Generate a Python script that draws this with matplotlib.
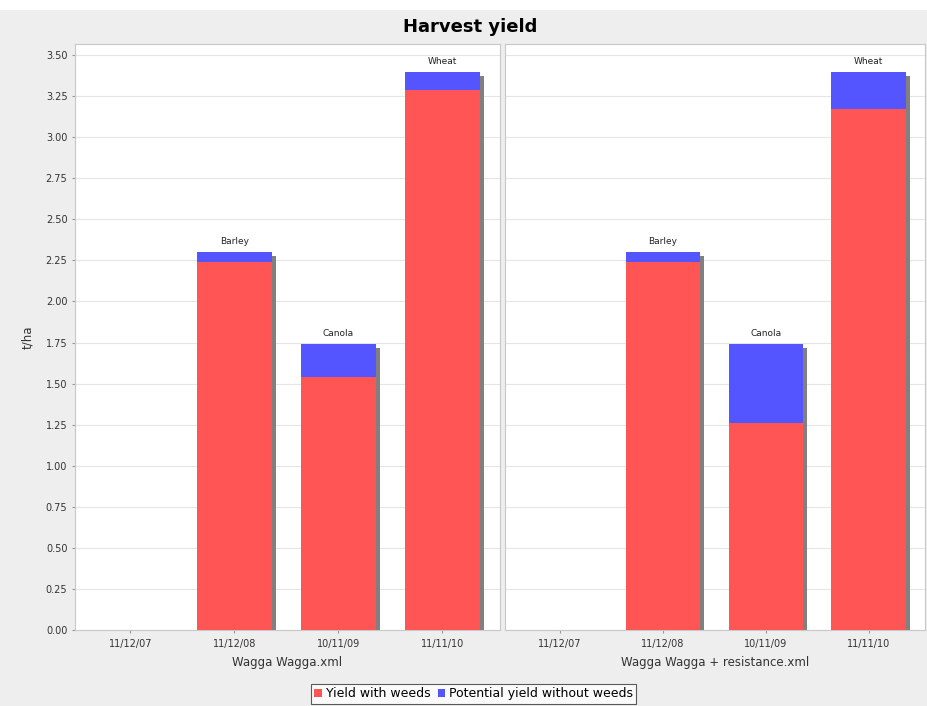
import matplotlib
matplotlib.use('Agg')
import matplotlib.pyplot as plt
import matplotlib.transforms as mtransforms
from matplotlib.patches import Rectangle
import numpy as np

dates = ['11/12/07', '11/12/08', '10/11/09', '11/11/10']
crops = ['', 'Barley', 'Canola', 'Wheat']
panels = ['Wagga Wagga.xml', 'Wagga Wagga + resistance.xml']

# yield with weeds (t/ha) per panel
with_weeds = [
    [0.0, 2.24, 1.54, 3.29],
    [0.0, 2.24, 1.26, 3.17],
]
# potential yield without weeds (stack top)
potential = [
    [0.0, 2.30, 1.74, 3.40],
    [0.0, 2.30, 1.74, 3.40],
]

RED = '#ff5555'
BLUE = '#5555ff'
SHADOW = '#808080'
BG = '#eeeeee'

fig = plt.figure(figsize=(9.27, 7.06), dpi=100, facecolor=BG)
fig.patches.append(Rectangle((0, 0.986), 1, 0.014, transform=fig.transFigure,
                             facecolor='white', edgecolor='none', zorder=0))

ax1 = fig.add_axes([0.081, 0.108, 0.458, 0.830])
ax2 = fig.add_axes([0.545, 0.108, 0.453, 0.830], sharey=ax1)

x = np.arange(len(dates))
width = 0.72
# drop shadow: 4 px right, 4 px down
shadow_off = mtransforms.ScaledTranslation(4 / 100, -4 / 100, fig.dpi_scale_trans)

for i, ax in enumerate([ax1, ax2]):
    red = np.array(with_weeds[i])
    top = np.array(potential[i])
    ax.bar(x, top, width, color=SHADOW, transform=ax.transData + shadow_off,
           zorder=2, linewidth=0)
    ax.bar(x, red, width, color=RED, zorder=3, linewidth=0,
           label='Yield with weeds')
    ax.bar(x, top - red, width, bottom=red, color=BLUE, zorder=3, linewidth=0,
           label='Potential yield without weeds')
    for xi, t, name in zip(x, top, crops):
        if name:
            ax.text(xi, t + 0.035, name, ha='center', va='bottom', fontsize=6.5,
                    color='#222222')

    ax.set_xlim(-0.53, 3.55)
    ax.set_ylim(0, 3.57)
    ax.set_xticks(x)
    ax.set_xticklabels(dates)
    ax.set_yticks(np.arange(0, 3.51, 0.25))
    ax.grid(axis='y', color='#e6e6e6', linewidth=0.8, zorder=0)
    ax.set_axisbelow(True)
    ax.set_facecolor('white')
    for s in ax.spines.values():
        s.set_color('#c8c8c8')
    ax.tick_params(axis='both', colors='#999999', labelcolor='#333333',
                   length=2, labelsize=7)
    ax.tick_params(axis='x', pad=5)
    ax.set_xlabel(panels[i], fontsize=8.5, color='#333333', labelpad=5)

ax1.set_yticklabels(['%.2f' % v for v in np.arange(0, 3.51, 0.25)])
ax1.set_ylabel('t/ha', fontsize=8.5, color='#333333', labelpad=8)
ax2.tick_params(axis='y', labelleft=False, length=0)

fig.text(0.507, 0.962, 'Harvest yield', ha='center', va='center',
         fontsize=13, fontweight='bold')

handles, labels = ax1.get_legend_handles_labels()
leg = fig.legend(handles, labels, loc='lower center', bbox_to_anchor=(0.511, 0.0),
                 ncol=2, fontsize=9, frameon=True, fancybox=False,
                 handlelength=0.6, handleheight=0.6, handletextpad=0.3,
                 columnspacing=0.6, borderpad=0.25, borderaxespad=0.2)
leg.get_frame().set_edgecolor('#333333')
leg.get_frame().set_linewidth(0.8)

fig.savefig('out.png', dpi=100, facecolor=BG)
